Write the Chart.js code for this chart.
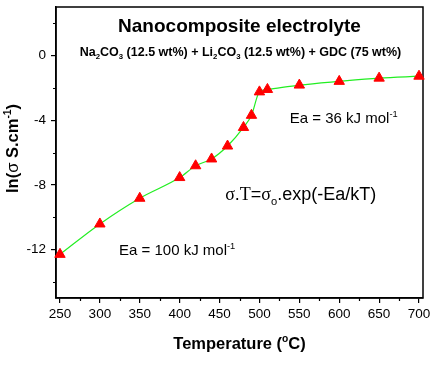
<!DOCTYPE html>
<html><head><meta charset="utf-8">
<script src="https://cdn.jsdelivr.net/npm/chart.js@4/dist/chart.umd.min.js"></script>
<style>html,body{margin:0;padding:0;background:#fff}</style>
</head><body>
<canvas id="c" width="433" height="365" style="width:433px;height:365px;display:block"></canvas>
<script>
// ---- data ----
const temperatures = [250, 300, 350, 400, 420, 440, 460, 480, 490, 500, 510, 550, 600, 650, 700];
const lnSigma = [-12.3, -10.42, -8.83, -7.55, -6.82, -6.4, -5.6, -4.45, -3.7, -2.25, -2.1, -1.83, -1.6, -1.4, -1.28];
const xTicks = [250, 300, 350, 400, 450, 500, 550, 600, 650, 700];
const yTicks = [-12, -8, -4, 0];
const xMinorTicks = [275, 325, 375, 425, 475, 525, 575, 625, 675];
const yMinorTicks = [-14, -10, -6, -2, 2];

const SANS = '"Liberation Sans", Arial, Helvetica, sans-serif';
const SERIF = '"Liberation Serif", "Times New Roman", serif';

// rich text: parts = [text, mode('', 'sub', 'sup'), opts]
function drawRich(ctx, parts, x, y, align, size, weight, rotate) {
  ctx.save();
  ctx.translate(x, y);
  if (rotate) ctx.rotate(rotate);
  ctx.textBaseline = 'alphabetic';
  ctx.textAlign = 'left';
  ctx.fillStyle = '#000';
  const items = parts.map(p => {
    const mode = p[1] || '';
    const o = p[2] || {};
    const s = mode ? size * 0.62 : size;
    const fam = o.family || SANS;
    const w = o.weight || weight;
    const font = w + ' ' + s + 'px ' + fam;
    ctx.font = font;
    return {t: p[0], font, w: ctx.measureText(p[0]).width, dy: mode === 'sub' ? size * 0.28 : (mode === 'sup' ? -size * 0.42 : 0)};
  });
  const total = items.reduce((a, b) => a + b.w, 0);
  let cx = align === 'center' ? -total / 2 : (align === 'right' ? -total : 0);
  const base = size * 0.36;
  items.forEach(it => {
    ctx.font = it.font;
    ctx.fillText(it.t, cx, base + it.dy);
    cx += it.w;
  });
  ctx.restore();
}

const decorPlugin = {
  id: 'decor',
  beforeDatasetsDraw(chart) {
    const {ctx, chartArea: a} = chart;
    ctx.save();
    ctx.strokeStyle = '#000';
    ctx.lineWidth = 1.5;
    ctx.strokeRect(a.left, a.top, a.right - a.left, a.bottom - a.top);
    ctx.lineWidth = 1.2;
    const xs = chart.scales.x, ys = chart.scales.y;
    ctx.beginPath();
    xMinorTicks.forEach(v => {
      const px = Math.round(xs.getPixelForValue(v)) + 0.5;
      ctx.moveTo(px, a.bottom); ctx.lineTo(px, a.bottom + 3);
    });
    yMinorTicks.forEach(v => {
      const py = Math.round(ys.getPixelForValue(v)) + 0.5;
      ctx.moveTo(a.left, py); ctx.lineTo(a.left - 3, py);
    });
    ctx.stroke();
    ctx.restore();
  },
  afterDraw(chart) {
    const {ctx, chartArea: a} = chart;
    const xs = chart.scales.x, ys = chart.scales.y;
    const cx = (a.left + a.right) / 2;
    drawRich(ctx, [['Nanocomposite electrolyte']], cx, a.top + 18, 'center', 19, 'bold');
    drawRich(ctx, [['Na'], ['2', 'sub'], ['CO'], ['3', 'sub'], [' (12.5 wt%) + Li'], ['2', 'sub'], ['CO'], ['3', 'sub'], [' (12.5 wt%) + GDC (75 wt%)']],
      cx + 1, a.top + 44, 'center', 12.5, 'bold');
    drawRich(ctx, [['Ea = 36 kJ mol'], ['-1', 'sup']], xs.getPixelForValue(538), ys.getPixelForValue(-3.85), 'left', 15, 'normal');
    drawRich(ctx, [['\u03C3', '', {family: SERIF}], ['.'], ['T', '', {family: SERIF}], ['='], ['\u03C3', '', {family: SERIF}], ['o', 'sub'], ['.exp(-Ea/kT)']],
      xs.getPixelForValue(457), ys.getPixelForValue(-8.55), 'left', 18, 'normal');
    drawRich(ctx, [['Ea = 100 kJ mol'], ['-1', 'sup']], xs.getPixelForValue(324), ys.getPixelForValue(-12.0), 'left', 15, 'normal');
    drawRich(ctx, [['Temperature ('], ['o', 'sup'], ['C)']], cx, 343, 'center', 16.5, 'bold');
    drawRich(ctx, [['ln('], ['\u03C3', '', {weight: 'normal'}], [' S.cm'], ['-1', 'sup'], [')']], 12, (a.top + a.bottom) / 2 - 4, 'center', 16.5, 'bold', -Math.PI / 2);
  }
};

new Chart(document.getElementById('c'), {
  type: 'scatter',
  data: {
    datasets: [{
      data: temperatures.map((t, i) => ({x: t, y: lnSigma[i]})),
      showLine: true,
      borderColor: '#22ee22',
      borderWidth: 1.2,
      cubicInterpolationMode: 'monotone',
      pointStyle: 'triangle',
      pointRadius: 6,
      pointBackgroundColor: '#ff0000',
      pointBorderColor: '#ff0000',
      pointBorderWidth: 1,
      clip: false
    }]
  },
  options: {
    responsive: false,
    animation: false,
    events: [],
    layout: {padding: {top: 4, right: 10, left: 0, bottom: 0}},
    plugins: {legend: {display: false}, tooltip: {enabled: false}, title: {display: false}},
    scales: {
      x: {
        type: 'linear', min: 245, max: 705,
        afterBuildTicks: s => { s.ticks = xTicks.map(v => ({value: v})); },
        afterFit: s => { s.height = 67; s.paddingLeft = 0; s.paddingRight = 0; },
        grid: {drawOnChartArea: false, drawTicks: true, tickLength: 5, color: '#000', lineWidth: 1.2},
        border: {display: true, color: '#000', width: 1.5},
        ticks: {font: {family: SANS, size: 13.5}, color: '#000', padding: 3, maxRotation: 0, autoSkip: false}
      },
      y: {
        type: 'linear', min: -15, max: 3,
        afterBuildTicks: s => { s.ticks = yTicks.map(v => ({value: v})); },
        afterFit: s => { s.width = 56; s.paddingTop = 0; s.paddingBottom = 0; },
        grid: {drawOnChartArea: false, drawTicks: true, tickLength: 5, color: '#000', lineWidth: 1.2},
        border: {display: true, color: '#000', width: 1.5},
        ticks: {font: {family: SANS, size: 13.5}, color: '#000', padding: 5, autoSkip: false}
      }
    }
  },
  plugins: [decorPlugin]
});
</script>
</body></html>
